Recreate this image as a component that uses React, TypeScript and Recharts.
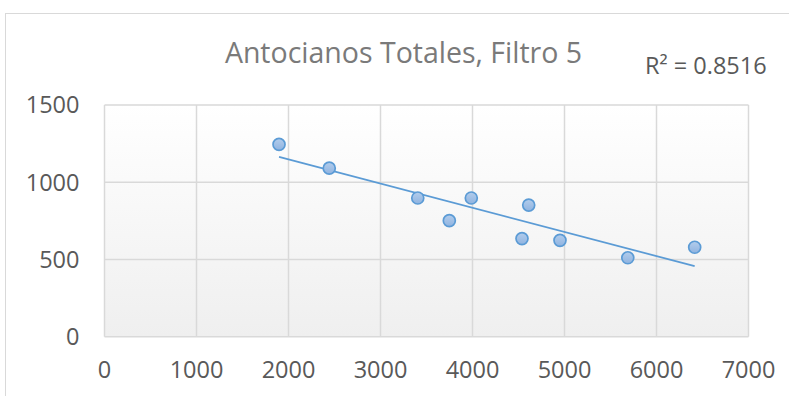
import { ScatterChart, Scatter, XAxis, YAxis, CartesianGrid } from 'recharts'

const xValues = [1897, 2443, 3405, 3748, 3987, 4611, 4538, 4951, 5688, 6415]
const yValues = [1245, 1091, 898, 751, 898, 852, 635, 624, 511, 579]
const xTicks = [0, 1000, 2000, 3000, 4000, 5000, 6000, 7000]
const yTicks = [0, 500, 1000, 1500]
const chartTitle = 'Antocianos Totales, Filtro 5'
const rSquaredLabel = 'R² = 0.8516'

const points = xValues.map((x, i) => ({ x, y: yValues[i] }))

// least squares fit, drawn over the range of the data like Excel does
function linearFit(xs: number[], ys: number[]) {
  const n = xs.length
  const mx = xs.reduce((a, b) => a + b, 0) / n
  const my = ys.reduce((a, b) => a + b, 0) / n
  let sxy = 0
  let sxx = 0
  xs.forEach((x, i) => {
    sxy += (x - mx) * (ys[i] - my)
    sxx += (x - mx) * (x - mx)
  })
  const slope = sxy / sxx
  return { slope, intercept: my - slope * mx }
}

const fit = linearFit(xValues, yValues)
const xMin = Math.min(...xValues)
const xMax = Math.max(...xValues)
const trend = [
  { x: xMin, y: fit.intercept + fit.slope * xMin },
  { x: xMax, y: fit.intercept + fit.slope * xMax },
]

const tickStyle = { fontSize: 23.5, fontFamily: 'Open Sans', fill: '#595959' }

export default function App() {
  return (
    <div style={{ position: 'absolute', left: 0, top: 0, width: 789, height: 396, background: '#fff', overflow: 'hidden' }}>
      <div
        style={{
          position: 'absolute',
          left: 5,
          top: 13,
          width: 820,
          height: 420,
          borderLeft: '1px solid #d9d9d9',
          borderTop: '1px solid #d9d9d9',
        }}
      />
      <div
        style={{
          position: 'absolute',
          left: 0,
          width: 807,
          top: 33,
          textAlign: 'center',
          fontFamily: 'Open Sans',
          fontSize: 28.5,
          color: '#7a7a7a',
          lineHeight: '39px',
          whiteSpace: 'nowrap',
        }}
      >
        {chartTitle}
      </div>
      <div
        style={{
          position: 'absolute',
          left: 645,
          top: 49,
          fontFamily: 'Open Sans',
          fontSize: 23.5,
          color: '#595959',
          lineHeight: '32px',
          whiteSpace: 'nowrap',
        }}
      >
        {rSquaredLabel}
      </div>
      <div style={{ position: 'absolute', left: 0, top: 0 }}>
        <ScatterChart width={789} height={396} margin={{ top: 105, right: 40.5, bottom: 0, left: 0 }}>
          <defs>
            <linearGradient id="plotBg" x1="0" y1="0" x2="0" y2="1">
              <stop offset="0%" stopColor="#ffffff" />
              <stop offset="100%" stopColor="#efefef" />
            </linearGradient>
            <linearGradient id="dotFill" x1="0" y1="0" x2="0" y2="1">
              <stop offset="0%" stopColor="#b3cdec" />
              <stop offset="100%" stopColor="#8fb3e0" />
            </linearGradient>
          </defs>
          <CartesianGrid
            stroke="#d9d9d9"
            strokeWidth={1.5}
            fill="url(#plotBg)"
            horizontalValues={yTicks}
            verticalValues={xTicks}
          />
          <XAxis
            type="number"
            dataKey="x"
            domain={[0, 7000]}
            ticks={xTicks}
            axisLine={false}
            tickLine={false}
            tickSize={0}
            tickMargin={25}
            height={59.3}
            tick={tickStyle}
            interval={0}
          />
          <YAxis
            type="number"
            dataKey="y"
            domain={[0, 1500]}
            ticks={yTicks}
            axisLine={false}
            tickLine={false}
            tickSize={0}
            tickMargin={25}
            width={104.5}
            tick={tickStyle}
            interval={0}
          />
          <Scatter
            data={trend}
            line={{ stroke: '#5b9bd5', strokeWidth: 1.75 }}
            shape={() => <g />}
            isAnimationActive={false}
          />
          <Scatter
            data={points}
            fill="url(#dotFill)"
            shape={(props: any) => (
              <circle cx={props.cx} cy={props.cy} r={6} fill="url(#dotFill)" stroke="#5b9bd5" strokeWidth={1.7} />
            )}
            isAnimationActive={false}
          />
        </ScatterChart>
      </div>
    </div>
  )
}
